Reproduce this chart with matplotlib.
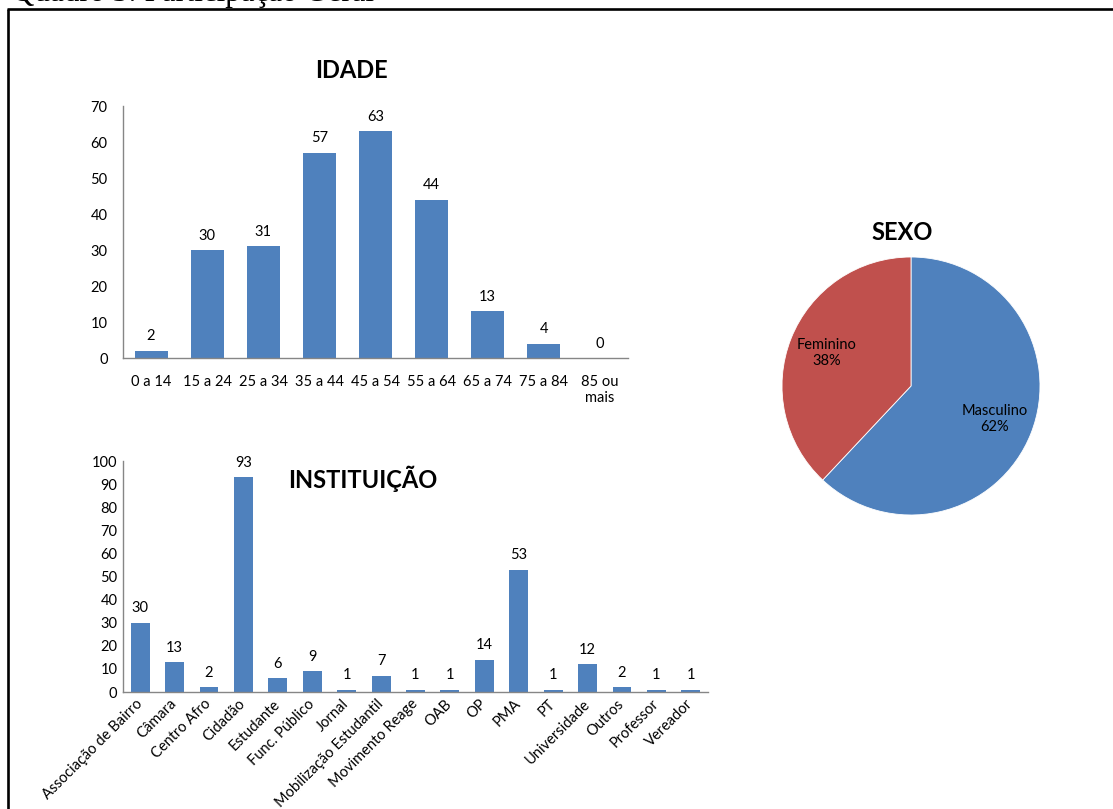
import matplotlib
matplotlib.use("Agg")
import matplotlib.pyplot as plt
from matplotlib.lines import Line2D

# ---------------- data ----------------
idade_cats = ["0 a 14", "15 a 24", "25 a 34", "35 a 44", "45 a 54",
              "55 a 64", "65 a 74", "75 a 84", "85 ou\nmais"]
idade_vals = [2, 30, 31, 57, 63, 44, 13, 4, 0]

inst_cats = ["Associação de Bairro", "Câmara", "Centro Afro", "Cidadão",
             "Estudante", "Func. Público", "Jornal", "Mobilização Estudantil",
             "Movimento Reage", "OAB", "OP", "PMA", "PT", "Universidade",
             "Outros", "Professor", "Vereador"]
inst_vals = [30, 13, 2, 93, 6, 9, 1, 7, 1, 1, 14, 53, 1, 12, 2, 1, 1]

sexo_cats = ["Masculino", "Feminino"]
sexo_vals = [62, 38]

header = "Quadro 3: Participação Geral"

# ---------------- style ----------------
W, H = 1113, 809
BLUE = "#4F81BD"
RED = "#C0504D"
AXC = "#868686"
FONT = "Lato"
FS = 10.5
TFS = 17
plt.rcParams["font.family"] = [FONT, "DejaVu Sans"]

fig = plt.figure(figsize=(W / 100, H / 100), dpi=100)


def fx(px):
    return px / W


def fy(py):
    return 1 - py / H


# frame
fig.add_artist(Line2D([fx(8), fx(8)], [fy(9), fy(812)], color="black", lw=1.9,
                      transform=fig.transFigure, solid_capstyle="butt"))
fig.add_artist(Line2D([fx(7), fx(1116)], [fy(9), fy(9)], color="black", lw=1.9,
                      transform=fig.transFigure, solid_capstyle="butt"))

# header (partly above the page edge, as in the reference)
ht = fig.text(fx(12), fy(1.5), header, family=["Liberation Serif"], fontsize=20,
              va="baseline", ha="left")
fig.canvas.draw()
bb = ht.get_window_extent()
ht.set_fontsize(20 * 363 / bb.width)


def style_bar_axes(ax, ymax, step, ypad):
    ax.set_ylim(0, ymax)
    ax.set_yticks(range(0, ymax + 1, step))
    for s in ["top", "right"]:
        ax.spines[s].set_visible(False)
    for s in ["left", "bottom"]:
        ax.spines[s].set_color(AXC)
        ax.spines[s].set_linewidth(1.0)
    ax.tick_params(axis="y", length=0, pad=ypad, labelsize=FS, labelcolor="black")
    ax.tick_params(axis="x", length=0, labelsize=FS, labelcolor="black")


# ---------------- IDADE ----------------
ax1 = fig.add_axes([fx(123), fy(358), fx(628) - fx(123), fy(106) - fy(358)])
x1 = range(len(idade_cats))
ax1.bar(x1, idade_vals, width=0.59, color=BLUE)
ax1.set_xlim(-0.5, len(idade_cats) - 0.5)
style_bar_axes(ax1, 70, 10, 11)
ax1.set_xticks(list(x1))
ax1.set_xticklabels(idade_cats, linespacing=1.2)
ax1.tick_params(axis="x", pad=12)
for xi, v in zip(x1, idade_vals):
    ax1.annotate(str(v), (xi, v), xytext=(0, 7.5), textcoords="offset points",
                 ha="center", va="baseline", fontsize=FS)
fig.text(fx(351), fy(78), "IDADE", fontsize=TFS, fontweight="bold",
         ha="center", va="baseline")

# ---------------- INSTITUIÇÃO ----------------
ax2 = fig.add_axes([fx(123), fy(692), fx(708) - fx(123), fy(461) - fy(692)])
x2 = range(len(inst_cats))
ax2.bar(x2, inst_vals, width=0.55, color=BLUE)
ax2.set_xlim(-0.5, len(inst_cats) - 0.5)
style_bar_axes(ax2, 100, 10, 4)
ax2.set_xticks(list(x2))
ax2.set_xticklabels(inst_cats, rotation=45, ha="right", va="center",
                    rotation_mode="anchor")
ax2.tick_params(axis="x", pad=7)
for xi, v in zip(x2, inst_vals):
    ax2.annotate(str(v), (xi, v), xytext=(0, 7.5), textcoords="offset points",
                 ha="center", va="baseline", fontsize=FS)
fig.text(fx(363), fy(488), "INSTITUIÇÃO", fontsize=TFS, fontweight="bold",
         ha="center", va="baseline")

# ---------------- SEXO ----------------
R = 129
ax3 = fig.add_axes([fx(911 - R), fy(386 + R), fx(2 * R), 2 * R / H])
total = sum(sexo_vals)
lbls = [f"{c}\n{round(v / total * 100)}%" for c, v in zip(sexo_cats, sexo_vals)]
wedges, texts = ax3.pie(sexo_vals, colors=[BLUE, RED], startangle=90,
                        counterclock=False, labels=lbls, labeldistance=0.70,
                        wedgeprops=dict(edgecolor="white", linewidth=0.6),
                        textprops=dict(fontsize=FS, color="black"))
for t in texts:
    t.set_ha("center")
    t.set_va("center")
    t.set_linespacing(1.15)
ax3.set_xlim(-1, 1)
ax3.set_ylim(-1, 1)
ax3.set_aspect("equal")
fig.text(fx(902), fy(240), "SEXO", fontsize=TFS, fontweight="bold",
         ha="center", va="baseline")

fig.savefig("out.png", dpi=100)
